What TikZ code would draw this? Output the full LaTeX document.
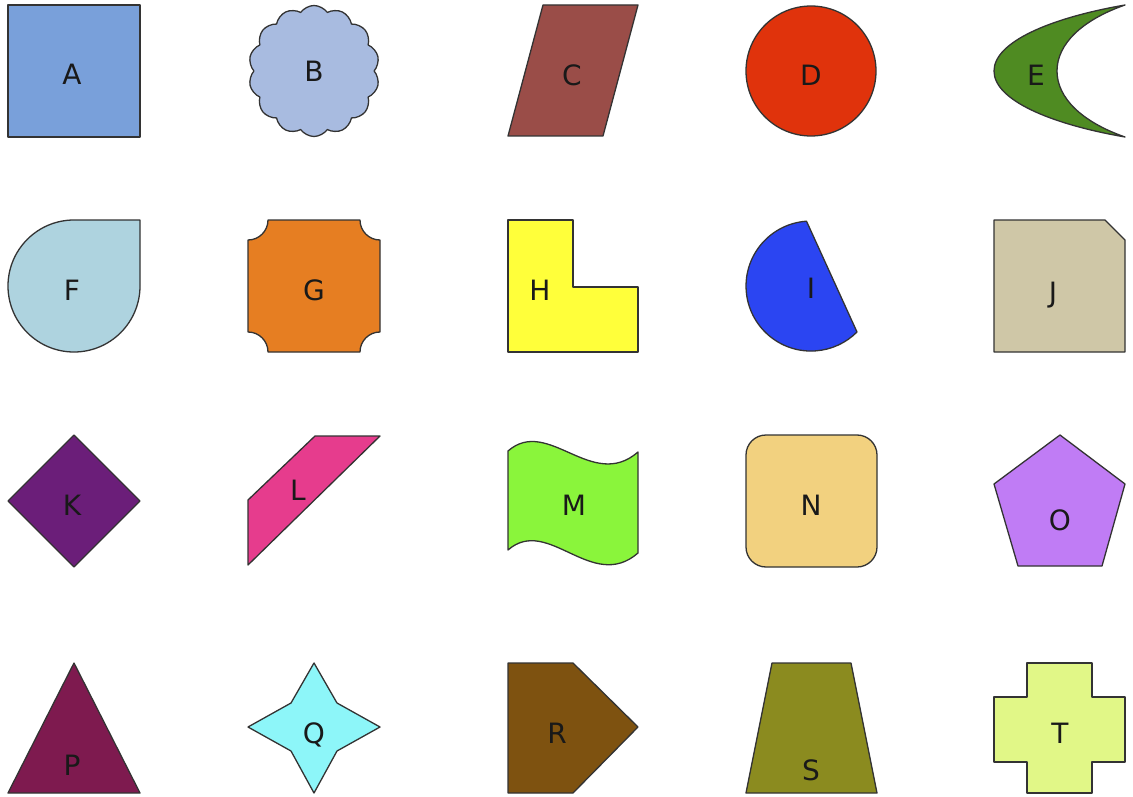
\documentclass[tikz,border=0pt]{standalone}
\usepackage{fontspec}
\setmainfont{DejaVu Sans}
\usetikzlibrary{shapes.symbols}
\definecolor{fillA}{HTML}{79A0DA}
\definecolor{fillB}{HTML}{A8BBE0}
\definecolor{fillC}{HTML}{9A4D48}
\definecolor{fillD}{HTML}{E0330C}
\definecolor{fillE}{HTML}{4F8B22}
\definecolor{fillF}{HTML}{AED3DF}
\definecolor{fillG}{HTML}{E67E22}
\definecolor{fillH}{HTML}{FFFF3A}
\definecolor{fillI}{HTML}{2B45F2}
\definecolor{fillJ}{HTML}{CFC7A7}
\definecolor{fillK}{HTML}{6B1E79}
\definecolor{fillL}{HTML}{E63C8D}
\definecolor{fillM}{HTML}{8AF53B}
\definecolor{fillN}{HTML}{F2D17F}
\definecolor{fillO}{HTML}{C07CF5}
\definecolor{fillP}{HTML}{7E1A4F}
\definecolor{fillQ}{HTML}{8DF6F9}
\definecolor{fillR}{HTML}{7E5210}
\definecolor{fillS}{HTML}{8B8B1F}
\definecolor{fillT}{HTML}{E1F787}

\begin{document}
\begin{tikzpicture}[x=1pt, y=-1pt, outline/.style={draw=black!80, line width=1.3pt, line join=round}, letter/.style={font=\fontsize{28}{32}\selectfont, text=black!90, inner sep=0pt}]
\useasboundingbox (0,0) rectangle (1133,797);
% row 1
\draw[outline, fill=fillA] (8,5) rectangle (140,137);
\node[letter] (lblA) at (72,74) {A};
\node[cloud, cloud puffs=14, cloud puff arc=110, aspect=1, outline, fill=fillB, minimum width=131, minimum height=131, font=\fontsize{28}{32}\selectfont, text=black!90] (lblB) at (314,71) {B};
\draw[outline, fill=fillC] (543,5) -- (638,5) -- (603,136) -- (508,136) -- cycle;
\node[letter] (lblC) at (572,75) {C};
\draw[outline, fill=fillD] (811,71) circle[radius=65];
\node[letter] (lblD) at (811,75) {D};
\draw[outline, fill=fillE] (1125,5) .. controls (1050,18) and (994,42) .. (994,71) .. controls (994,100) and (1050,124) .. (1125,137) .. controls (1082,122) and (1057,98) .. (1057,71) .. controls (1057,44) and (1082,20) .. (1125,5) -- cycle;
\node[letter] (lblE) at (1036,75) {E};
% row 2
\draw[outline, fill=fillF] (74,220) -- (140,220) -- (140,286) arc[start angle=0, end angle=270, radius=66] -- cycle;
\node[letter] (lblF) at (72,290) {F};
\draw[outline, fill=fillG] (268,220) -- (360,220) arc[start angle=180, end angle=90, radius=20] -- (380,332) arc[start angle=270, end angle=180, radius=20] -- (268,352) arc[start angle=360, end angle=270, radius=20] -- (248,240) arc[start angle=90, end angle=0, radius=20] -- cycle;
\node[letter] (lblG) at (314,290) {G};
\draw[outline, fill=fillH] (508,220) -- (573,220) -- (573,287) -- (638,287) -- (638,352) -- (508,352) -- cycle;
\node[letter] (lblH) at (540,290) {H};
\draw[outline, fill=fillI] (806.5,221.2) arc[start angle=266, end angle=45, radius=65] -- cycle;
\node[letter] (lblI) at (811,288) {I};
\draw[outline, fill=fillJ] (994,220) -- (1105,220) -- (1125,240) -- (1125,352) -- (994,352) -- cycle;
\node[letter] (lblJ) at (1053,295) {J};
% row 3
\draw[outline, fill=fillK] (74,435) -- (140,501) -- (74,567) -- (8,501) -- cycle;
\node[letter] (lblK) at (72,505) {K};
\draw[outline, fill=fillL] (248,500) -- (315,436) -- (380,436) -- (248,565) -- cycle;
\node[letter] (lblL) at (298,490) {L};
\draw[outline, fill=fillM] (508,451) .. controls (548,416) and (592,492) .. (638,452) -- (638,553) .. controls (592,593) and (548,515) .. (508,550) -- cycle;
\node[letter] (lblM) at (574,505) {M};
\draw[outline, fill=fillN, rounded corners=20] (746,435) rectangle (877,567);
\node[letter] (lblN) at (811,505) {N};
\draw[outline, fill=fillO] (1060,435) -- (1125,484) -- (1102,566) -- (1018,566) -- (994,484) -- cycle;
\node[letter] (lblO) at (1060,520) {O};
% row 4
\draw[outline, fill=fillP] (74,663) -- (140,793) -- (8,793) -- cycle;
\node[letter] (lblP) at (72,765) {P};
\draw[outline, fill=fillQ] (314,663) -- (337,703) -- (380,727) -- (337,751) -- (314,793) -- (291,751) -- (248,727) -- (291,703) -- cycle;
\node[letter] (lblQ) at (314,735) {Q};
\draw[outline, fill=fillR] (508,663) -- (573,663) -- (638,727) -- (573,793) -- (508,793) -- cycle;
\node[letter] (lblR) at (557,733) {R};
\draw[outline, fill=fillS] (772,663) -- (851,663) -- (877,793) -- (746,793) -- cycle;
\node[letter] (lblS) at (811,770) {S};
\draw[outline, fill=fillT] (1027,663) -- (1092,663) -- (1092,697) -- (1125,697) -- (1125,762) -- (1092,762) -- (1092,793) -- (1027,793) -- (1027,762) -- (994,762) -- (994,697) -- (1027,697) -- cycle;
\node[letter] (lblT) at (1060,733) {T};
\end{tikzpicture}
\end{document}
